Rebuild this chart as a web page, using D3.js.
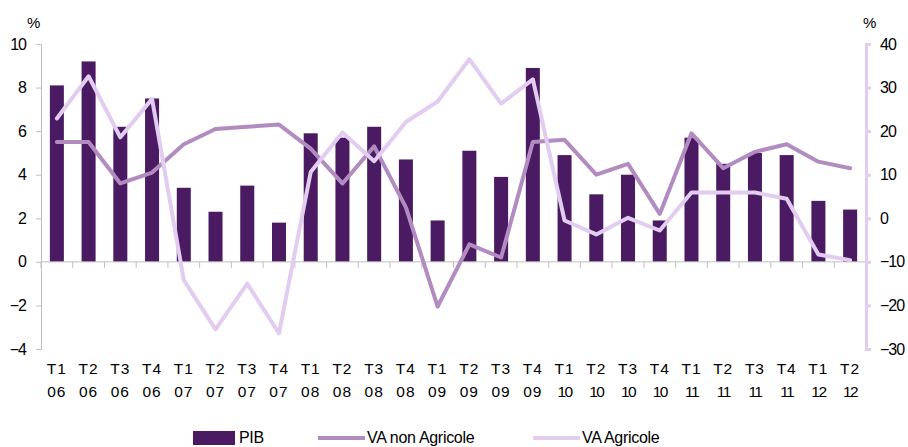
<!DOCTYPE html>
<html>
<head>
<meta charset="utf-8">
<script src="https://cdn.jsdelivr.net/npm/d3@7"></script>
<style>
  body { margin: 0; background: #fff; }
  svg { display: block; font-family: "Liberation Sans", Arial, sans-serif; }
</style>
</head>
<body>
<svg id="chart" width="908" height="447"></svg>
<script>
// quarters / years (two-line tick labels)
const quarters = ["T1","T2","T3","T4","T1","T2","T3","T4","T1","T2","T3","T4","T1","T2","T3","T4","T1","T2","T3","T4","T1","T2","T3","T4","T1","T2"];
const years = ["06","06","06","06","07","07","07","07","08","08","08","08","09","09","09","09","10","10","10","10","11","11","11","11","12","12"];

// PIB (left axis, %)
const pib = [8.1, 9.2, 6.2, 7.5, 3.4, 2.3, 3.5, 1.8, 5.9, 5.7, 6.2, 4.7, 1.9, 5.1, 3.9, 8.9, 4.9, 3.1, 4.0, 1.9, 5.7, 4.5, 5.0, 4.9, 2.8, 2.4];
// VA non Agricole (left axis, %)
const vaNonAgri = [5.5, 5.5, 3.6, 4.1, 5.4, 6.1, 6.2, 6.3, 5.2, 3.6, 5.3, 2.5, -2.05, 0.8, 0.2, 5.5, 5.6, 4.0, 4.5, 2.2, 5.9, 4.3, 5.05, 5.4, 4.6, 4.3];
// VA Agricole (right axis, %)
const vaAgri = [22.9, 32.6, 18.6, 27.4, -14.2, -25.5, -15.0, -26.4, 10.6, 19.7, 13.1, 22.1, 26.8, 36.5, 26.3, 31.9, -0.5, -3.7, 0.1, -2.8, 5.9, 5.9, 5.9, 4.5, -8.3, -9.6];

const leftTicks = [-4, -2, 0, 2, 4, 6, 8, 10];
const rightTicks = [-30, -20, -10, 0, 10, 20, 30, 40];

const colPib = "#4a1a62", colNon = "#b28cc0", colAgri = "#e2ccf0", colAxis = "#bfbfbf";

const svg = d3.select("#chart");
const mLeft = 41, mRight = 866, mTop = 44, mBottom = 349;
const idx = d3.range(quarters.length);

const xStep = d3.scaleBand().domain(idx).range([mLeft, mRight]); // category slots
const cx = i => xStep(i) + xStep.bandwidth() / 2;
const yL = d3.scaleLinear().domain([-4, 10]).range([mBottom, mTop]);
const yR = d3.scaleLinear().domain([-30, 40]).range([mBottom, mTop]);

// bars
svg.append("g").selectAll("rect").data(pib).join("rect")
  .attr("x", (d, i) => cx(i) - 7)
  .attr("width", 14)
  .attr("y", d => yL(Math.max(0, d)))
  .attr("height", d => Math.abs(yL(d) - yL(0)))
  .attr("fill", colPib);

// left axis
const gl = svg.append("g").attr("transform", `translate(${mLeft},0)`)
  .call(d3.axisLeft(yL).tickValues(leftTicks).tickSize(5).tickPadding(10));
gl.select(".domain").attr("stroke", colAxis);
gl.selectAll(".tick line").attr("stroke", colAxis);
gl.selectAll(".tick text").attr("font-size", 16).attr("fill", "#000")
  .attr("font-family", "Liberation Sans, Arial, sans-serif").attr("letter-spacing", -1);

// zero line with category ticks
const gx = svg.append("g");
gx.append("line").attr("x1", mLeft).attr("x2", mRight).attr("y1", yL(0)).attr("y2", yL(0))
  .attr("stroke", colAxis);
gx.selectAll("line.tk").data(d3.range(quarters.length + 1)).join("line").attr("class", "tk")
  .attr("x1", i => mLeft + i * xStep.step()).attr("x2", i => mLeft + i * xStep.step())
  .attr("y1", yL(0)).attr("y2", yL(0) + 6).attr("stroke", colAxis);

// category labels
const lab = svg.append("g").attr("font-size", 15.5).attr("text-anchor", "middle").attr("fill", "#000");
lab.selectAll("text.q").data(quarters).join("text").attr("class", "q")
  .attr("x", (d, i) => cx(i)).attr("y", 374).attr("letter-spacing", 1).text(d => d);
lab.selectAll("text.y").data(years).join("text").attr("class", "y")
  .attr("x", (d, i) => cx(i)).attr("y", 397)
  .attr("letter-spacing", d => d[0] === "1" ? -1.5 : 1).text(d => d);

// lines
const lineL = d3.line().x((d, i) => cx(i)).y(d => yL(d));
const lineR = d3.line().x((d, i) => cx(i)).y(d => yR(d));
svg.append("path").datum(vaNonAgri).attr("d", lineL)
  .attr("fill", "none").attr("stroke", colNon).attr("stroke-width", 4)
  .attr("stroke-linejoin", "round").attr("stroke-linecap", "round");
svg.append("path").datum(vaAgri).attr("d", lineR)
  .attr("fill", "none").attr("stroke", colAgri).attr("stroke-width", 4)
  .attr("stroke-linejoin", "round").attr("stroke-linecap", "round");

// right axis
const gr = svg.append("g").attr("transform", `translate(${mRight},0)`)
  .call(d3.axisRight(yR).tickValues(rightTicks).tickSize(5).tickPadding(9));
gr.select(".domain").attr("stroke", colAgri).attr("stroke-width", 3);
gr.selectAll(".tick line").attr("stroke", colAgri).attr("stroke-width", 3);
gr.selectAll(".tick text").attr("font-size", 16).attr("fill", "#000")
  .attr("font-family", "Liberation Sans, Arial, sans-serif").attr("letter-spacing", -1);

// unit labels
svg.append("text").attr("x", 27).attr("y", 28).attr("font-size", 15).text("%");
svg.append("text").attr("x", 863).attr("y", 28).attr("font-size", 15).text("%");

// legend
const lg = svg.append("g").attr("font-size", 16);
lg.append("rect").attr("x", 193).attr("y", 431).attr("width", 42).attr("height", 14).attr("fill", colPib);
lg.append("text").attr("x", 239).attr("y", 443).attr("letter-spacing", -0.3).text("PIB");
lg.append("line").attr("x1", 318).attr("x2", 365).attr("y1", 438).attr("y2", 438)
  .attr("stroke", colNon).attr("stroke-width", 4);
lg.append("text").attr("x", 367).attr("y", 443).attr("letter-spacing", -0.3).text("VA non Agricole");
lg.append("line").attr("x1", 533).attr("x2", 580).attr("y1", 438).attr("y2", 438)
  .attr("stroke", colAgri).attr("stroke-width", 4);
lg.append("text").attr("x", 582).attr("y", 443).attr("letter-spacing", -0.3).text("VA Agricole");
</script>
</body>
</html>
